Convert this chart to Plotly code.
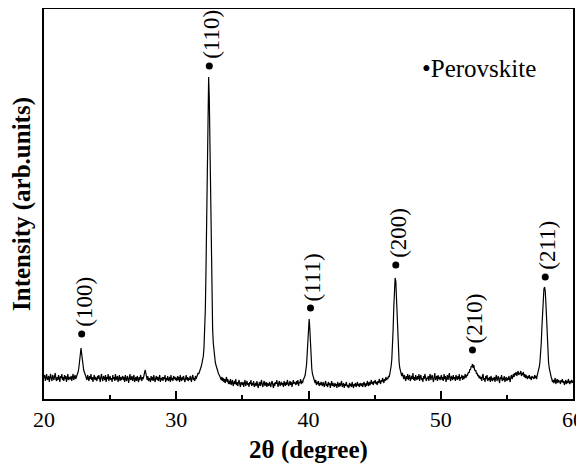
import numpy as np
import plotly.graph_objects as go

# 2-theta sampling grid (degrees), 0.05 deg steps from 20 to 60
two_theta = np.round(np.arange(20.0, 60.0001, 0.05), 2)

# intensity (arb. units), one row per degree (20 points per row)
intensity = [
    21,24,18,22,25,19,20,23,17,22,25,20,18,24,21,19,23,26,20,18,   # 20
    22,19,24,20,17,23,21,25,19,22,18,24,20,23,17,21,25,19,22,20,   # 21
    20,23,18,22,25,19,21,24,20,22,24,26,28,33,40,48,51,45,38,33,   # 22
    29,27,25,24,22,19,24,21,18,23,20,25,19,22,17,21,24,19,22,20,   # 23
    18,23,20,24,19,17,22,25,20,18,23,21,19,24,17,22,20,25,18,21,   # 24
    23,19,21,17,24,20,22,18,25,19,21,23,17,20,24,18,22,19,21,23,   # 25
    19,22,17,24,20,18,23,21,16,22,25,19,20,23,18,21,24,17,20,22,   # 26
    18,23,20,17,22,19,24,21,18,22,20,23,25,29,26,22,19,23,18,21,   # 27
    20,17,23,19,22,18,24,20,17,21,23,19,22,18,20,24,17,21,19,22,   # 28
    18,22,20,24,17,21,19,23,18,20,22,17,24,19,21,18,23,20,22,19,   # 29
    21,18,23,19,22,17,24,20,18,22,19,23,21,17,20,24,19,22,18,21,   # 30
    19,23,20,17,22,24,19,21,18,23,20,22,23,26,25,28,29,31,33,36,   # 31
    39,43,52,66,90,130,190,260,310,322,300,245,180,128,92,70,56,47,41,37,  # 32
    34,31,29,27,25,24,23,21,19,22,18,21,17,20,16,19,22,17,20,15,   # 33
    18,15,20,14,17,19,13,16,18,15,20,14,17,13,16,19,15,12,17,15,   # 34
    14,17,12,16,19,13,15,18,14,16,12,17,15,19,13,16,14,18,12,15,   # 35
    16,13,18,14,11,15,17,13,16,19,14,12,16,18,13,15,17,12,16,14,   # 36
    13,17,15,12,16,18,14,11,16,13,17,15,19,14,12,16,18,13,15,17,   # 37
    14,16,12,18,15,13,17,14,19,16,13,15,18,14,17,12,16,19,15,17,   # 38
    16,14,18,15,19,13,17,16,20,15,18,16,19,20,22,24,28,34,45,62,   # 39
    77,80,70,52,38,30,25,22,20,18,16,19,14,17,15,18,13,16,14,17,   # 40
    15,13,17,14,12,16,18,13,15,12,17,14,16,11,15,18,13,16,14,12,   # 41
    16,13,15,11,17,14,12,16,13,15,18,12,14,16,11,15,13,17,14,12,   # 42
    14,11,16,13,15,12,17,14,11,15,13,16,12,14,17,13,15,12,16,14,   # 43
    13,16,12,15,17,14,12,16,13,18,15,13,17,14,16,19,15,17,14,18,   # 44
    16,19,15,17,14,18,16,20,17,15,19,17,21,18,16,20,18,22,19,21,   # 45
    20,23,22,25,28,33,40,52,70,92,112,121,118,102,80,60,46,37,31,27,  # 46
    25,23,26,22,20,24,21,18,23,20,25,19,22,24,18,21,23,20,26,19,   # 47
    22,18,24,21,19,23,20,25,18,22,24,19,21,17,23,20,25,22,18,21,   # 48
    20,23,18,22,25,19,21,24,20,17,22,26,19,21,23,18,24,20,22,19,   # 49
    21,24,19,22,18,25,20,23,17,21,24,19,22,26,20,18,23,21,19,24,   # 50
    20,22,18,24,21,19,23,20,25,18,22,21,24,19,23,20,22,25,21,24,   # 51
    23,25,27,26,30,29,33,32,35,31,34,30,28,29,25,26,23,24,21,23,   # 52
    20,22,18,23,25,19,21,17,23,20,24,18,21,19,22,17,23,20,18,21,   # 53
    19,22,17,21,24,18,20,23,19,16,22,20,24,18,21,19,23,17,20,22,   # 54
    18,21,19,23,20,17,22,24,20,23,25,22,26,24,27,23,26,28,24,26,   # 55
    25,28,23,26,24,27,22,25,21,24,22,20,23,21,24,20,22,19,23,21,   # 56
    22,20,24,21,23,20,24,26,28,32,37,45,56,72,90,104,110,112,108,96,  # 57
    78,60,46,37,31,27,24,22,20,17,19,16,18,21,15,18,20,16,19,17,   # 58
    18,15,19,17,20,16,18,14,17,19,15,18,16,20,17,15,18,16,19,17,   # 59
    16,                                                            # 60
]

# Perovskite reflections: position, marker height, label
peak_pos = [22.85, 32.5, 40.15, 46.6, 52.4, 57.9]
peak_mark = [65, 333, 91, 134, 49, 122]
peak_hkl = ["(100)", "(110)", "(111)", "(200)", "(210)", "(211)"]

x_ticks = [20, 30, 40, 50, 60]

FONT = "Liberation Serif"

fig = go.Figure()
fig.add_trace(go.Scatter(
    x=two_theta, y=intensity, mode="lines",
    line=dict(color="black", width=1.2), showlegend=False, hoverinfo="skip",
))
fig.add_trace(go.Scatter(
    x=peak_pos, y=peak_mark, mode="markers",
    marker=dict(color="black", size=7), showlegend=False, name="Perovskite",
))

for px, py, lab in zip(peak_pos, peak_mark, peak_hkl):
    fig.add_annotation(
        x=px, y=py, text=lab, textangle=-90, showarrow=False,
        xanchor="center", yanchor="bottom", yshift=6, xshift=2, borderpad=0,
        font=dict(family=FONT, size=23, color="black"),
    )

fig.add_annotation(
    x=48.5, y=331, text="•Perovskite", showarrow=False,
    xanchor="left", yanchor="middle", borderpad=0,
    font=dict(family=FONT, size=25, color="black"),
)

# the page body adds an 8 px offset, so the figure is 8 px smaller on each side
fig.update_layout(
    width=576, height=456,
    margin=dict(l=36, r=11, t=1, b=65, autoexpand=False),
    paper_bgcolor="white", plot_bgcolor="white",
    font=dict(family=FONT, color="black"),
    xaxis=dict(
        range=[20, 60], tickvals=x_ticks, ticks="inside", ticklen=8, tickwidth=1.5,
        tickcolor="black", showline=True, linewidth=2, linecolor="black", mirror=True,
        showgrid=False, zeroline=False, automargin=False,
        minor=dict(dtick=5, ticks="inside", ticklen=4, tickwidth=1.5, tickcolor="black"),
        tickfont=dict(family=FONT, size=22, color="black"),
        title=dict(text="<b>2θ (degree)</b>", standoff=14,
                   font=dict(family=FONT, size=25, color="black")),
    ),
    yaxis=dict(
        range=[0, 390], showticklabels=False, ticks="", showline=True, linewidth=2,
        linecolor="black", mirror=True, showgrid=False, zeroline=False, automargin=False,
        title=dict(text="<b>Intensity (arb.units)</b>", standoff=7,
                   font=dict(family=FONT, size=25, color="black")),
    ),
)

fig.write_html("out.html")
